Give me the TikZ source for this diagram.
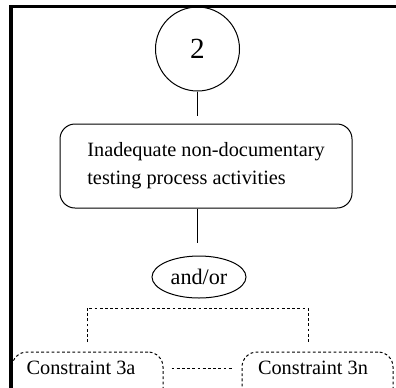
\documentclass[tikz,border=0pt]{standalone}
\usepackage{fontspec}
\setmainfont{Liberation Serif}
\usetikzlibrary{shapes.geometric}

\tikzset{
    txt/.style={font=\fontsize{10.15}{14}\selectfont},
    bigtxt/.style={font=\fontsize{11.1}{14}\selectfont},
    numtxt/.style={font=\fontsize{14.6}{16}\selectfont},
    solidline/.style={line width=0.5pt},
    dotline/.style={line width=0.5pt,dash pattern=on 1.4pt off 1.2pt},
    causebox/.style={txt,draw,solidline,rounded corners=7.5pt,align=left,
        minimum width=146pt,minimum height=42pt,inner sep=0pt},
    constrbox/.style={draw,dotline,rounded corners=7.5pt,
        minimum width=75.5pt,minimum height=40pt,inner sep=0pt},
}

\begin{document}
\begin{tikzpicture}[x=0.5pt,y=-0.5pt]
    \useasboundingbox (0,0) rectangle (396,387);
    \clip (0,0) rectangle (396,387);

    % frame
    \draw[line width=1.65pt] (11,420) -- (11,6.5) -- (420,6.5);

    \node[draw,solidline,circle,minimum size=42pt,inner sep=0pt,numtxt] (n2) at (197.5,49) {2};
    \node[causebox] (cause) at (206,166) {Inadequate non-documentary\\testing process activities};
    \node[draw,solidline,ellipse,minimum width=47pt,minimum height=21pt,inner sep=0pt,bigtxt] (andor) at (199,277) {and/or};

    \draw[solidline,shorten >=4pt] (n2.south) -- (n2.south |- cause.north);
    \draw[solidline,shorten >=6.5pt] (n2.south |- cause.south) -- (n2.south |- andor.north);

    % branches
    \coordinate (bl) at (87,342);
    \coordinate (br) at (308,342);
    \draw[dotline] (bl) -- (87,308) -- (308,308) -- (br);

    \node[constrbox] (c3a) at (87.5,392) {};
    \node[constrbox] (c3n) at (317.5,392) {};
    \node[txt] (t3a) at (81,368) {Constraint 3a};
    \node[txt] (t3n) at (313,368) {Constraint 3n};
    \draw[dotline,shorten <=4pt,shorten >=4pt] (c3a.east |- t3a) -- (c3n.west |- t3n);
\end{tikzpicture}
\end{document}
